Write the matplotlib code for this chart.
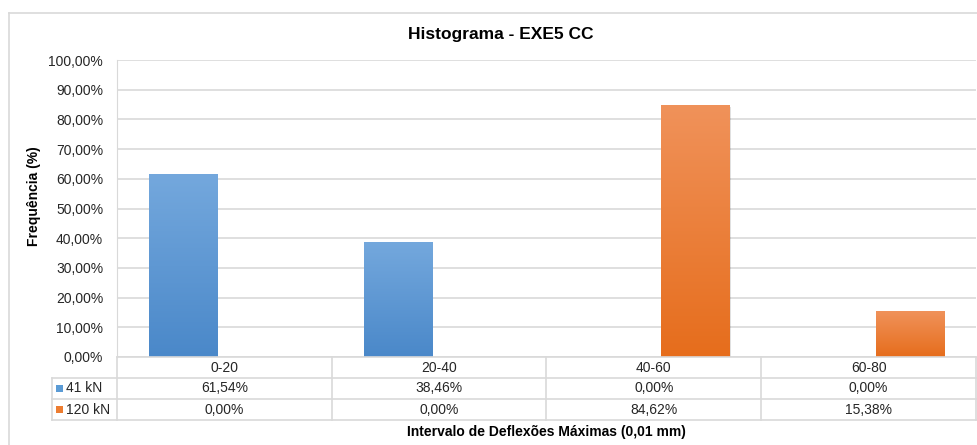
import numpy as np
import matplotlib.pyplot as plt
from matplotlib.colors import LinearSegmentedColormap
from matplotlib.lines import Line2D
from matplotlib.patches import Rectangle

plt.rcParams['font.family'] = ['Liberation Sans', 'DejaVu Sans']

categories = ['0-20', '20-40', '40-60', '60-80']
series_names = ['41 kN', '120 kN']
v41 = [61.54, 38.46, 0.0, 0.0]
v120 = [0.0, 0.0, 84.62, 15.38]
yticks = list(range(0, 101, 10))

W, H = 978, 445
fig = plt.figure(figsize=(W / 100, H / 100), dpi=100)


def fx(x):
    return x / W


def fy(y):
    return 1 - y / H


grid_c = '#D9D9D9'
txt_c = '#262626'

# outer chart border (chart is cropped at right/bottom)
fig.add_artist(Line2D([fx(9), fx(9)], [fy(13), fy(445)], color=grid_c, lw=1.2))
fig.add_artist(Line2D([fx(9), fx(978)], [fy(13), fy(13)], color=grid_c, lw=1.2))

left, right, top, bottom = 117, 976, 60, 357
ax = fig.add_axes([fx(left), fy(bottom), fx(right - left), (bottom - top) / H])
ax.set_xlim(-0.5, len(categories) - 0.5)
ax.set_ylim(0, 100)
ax.set_yticks(yticks)
ax.set_yticklabels([f'{t:.2f}%'.replace('.', ',') for t in yticks], fontsize=10, color=txt_c)
ax.set_xticks([])
ax.tick_params(axis='y', length=0, pad=10)
for s in ['top', 'right', 'bottom']:
    ax.spines[s].set_visible(False)
ax.spines['left'].set_color(grid_c)
ax.grid(axis='y', color=grid_c, lw=1.2)
ax.set_axisbelow(True)

grads = [
    LinearSegmentedColormap.from_list('b', ['#4A88C9', '#74A8DD']),
    LinearSegmentedColormap.from_list('o', ['#E66D1C', '#F0925A']),
]
key_colors = ['#5B9BD5', '#ED7D31']

x = np.arange(len(categories))
bw = 0.317
off = 0.193
grad = np.linspace(0, 1, 256).reshape(-1, 1)
for vals, sign, cmap in [(v41, -1, grads[0]), (v120, 1, grads[1])]:
    bars = ax.bar(x + sign * off, vals, bw, color='none', zorder=2)
    for b in bars:
        h = b.get_height()
        if h <= 0:
            continue
        x0 = b.get_x()
        ax.add_patch(Rectangle((x0 + 0.006, -0.5), bw, h, color='#000000', alpha=0.12, lw=0, zorder=2))
        ax.imshow(grad, cmap=cmap, extent=(x0, x0 + bw, 0, h), origin='lower',
                  aspect='auto', zorder=3)
ax.set_xlim(-0.5, len(categories) - 0.5)
ax.set_ylim(0, 100)

# data table
rows = [bottom, 378, 399, 420]
col_w = (right - left) / len(categories)
cols = [left + i * col_w for i in range(len(categories) + 1)]
fig.add_artist(Line2D([fx(left), fx(right)], [fy(bottom), fy(bottom)], color=grid_c, lw=1.2))
for y in rows[1:]:
    fig.add_artist(Line2D([fx(52), fx(right)], [fy(y), fy(y)], color=grid_c, lw=1.2))
for c in cols:
    fig.add_artist(Line2D([fx(c), fx(c)], [fy(bottom), fy(rows[-1])], color=grid_c, lw=1.2))
fig.add_artist(Line2D([fx(52), fx(52)], [fy(rows[1]), fy(rows[-1])], color=grid_c, lw=1.2))

for i, cat in enumerate(categories):
    cx = (cols[i] + cols[i + 1]) / 2
    fig.text(fx(cx), fy((rows[0] + rows[1]) / 2), cat, ha='center', va='center', fontsize=10, color=txt_c)
    for r, vals in enumerate([v41, v120]):
        yc = (rows[r + 1] + rows[r + 2]) / 2
        fig.text(fx(cx), fy(yc), f'{vals[i]:.2f}%'.replace('.', ','), ha='center', va='center',
                 fontsize=10, color=txt_c)

for r, name in enumerate(series_names):
    yc = (rows[r + 1] + rows[r + 2]) / 2
    fig.add_artist(Rectangle((fx(56), fy(yc + 3.5)), 7 / W, 7 / H, color=key_colors[r], lw=0))
    fig.text(fx(66), fy(yc), name, ha='left', va='center', fontsize=10, color=txt_c)

fig.text(fx(501), fy(35), 'Histograma - EXE5 CC', ha='center', va='center',
         fontsize=12.5, fontweight='bold', color='#000000')
fig.text(fx(546), fy(432), 'Intervalo de Deflexões Máximas (0,01 mm)', ha='center', va='center',
         fontsize=10, fontweight='bold', color='#000000')
fig.text(fx(34), fy(196), 'Frequência (%)', ha='center', va='center', rotation=90,
         fontsize=10, fontweight='bold', color='#000000')

fig.savefig('out.png', dpi=100, facecolor='white')
